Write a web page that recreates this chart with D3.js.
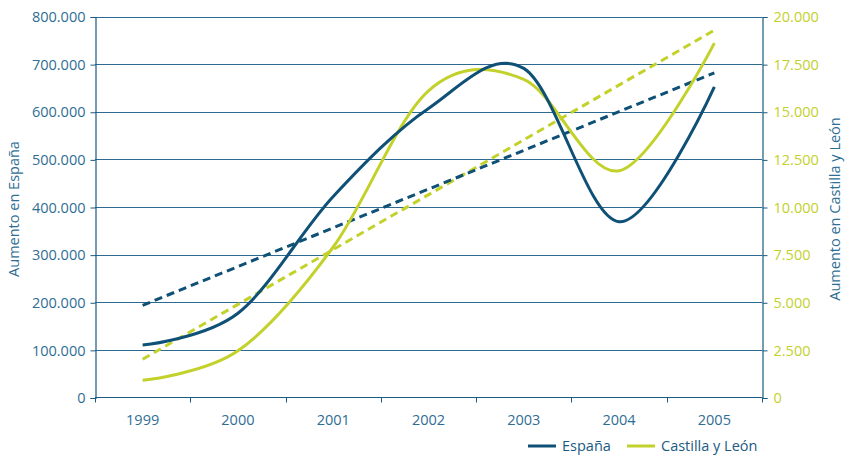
<!DOCTYPE html>
<html><head><meta charset="utf-8">
<script src="https://cdn.jsdelivr.net/npm/d3@7"></script>
<style>
html,body{margin:0;padding:0;background:#fff;}
svg{display:block;font-family:"Open Sans",sans-serif;}
</style></head>
<body><svg id="chart" width="847" height="459"></svg>
<script>
const years = ["1999","2000","2001","2002","2003","2004","2005"];
const espana = [110000, 177000, 422000, 607000, 691000, 369000, 652000];
const castilla = [900, 2450, 7900, 16100, 16700, 11900, 18600];
const espanaTrend = [193600, 681600];   // dashed trend, first & last year
const castillaTrend = [2010, 19280];
const leftTicks = [0,100000,200000,300000,400000,500000,600000,700000,800000];
const rightTicks = [0,2500,5000,7500,10000,12500,15000,17500,20000];
const seriesNames = ["España","Castilla y León"];

const C_ESP = "#0f5077", C_CYL = "#c3d12b", C_AX = "#1b5a82", C_TXT = "#2f6e94";
const svg = d3.select("#chart");
const L = 95, R = 762, T = 16.5, B = 397.5;

const x = d3.scaleBand().domain(years).range([L, R]);
const yL = d3.scaleLinear().domain([0, 800000]).range([B, T]);
const yR = d3.scaleLinear().domain([0, 20000]).range([B, T]);
const fmt = d => d3.format(",")(d).replace(/,/g, ".");
const cx = d => x(d) + x.bandwidth()/2;

// gridlines
svg.append("g").selectAll("line").data(leftTicks.slice(1)).join("line")
  .attr("x1", L).attr("x2", R)
  .attr("y1", d => Math.round(yL(d)) + 0.5).attr("y2", d => Math.round(yL(d)) + 0.5)
  .attr("stroke", "#2c6a91").attr("stroke-width", 1);

// left axis
const gl = svg.append("g").attr("transform", `translate(${L+0.5},0.5)`)
  .call(d3.axisLeft(yL).tickValues(leftTicks).tickFormat(fmt).tickSize(5).tickPadding(5));
gl.select(".domain").attr("stroke", C_AX).attr("stroke-width", 1.2);
gl.selectAll(".tick line").attr("stroke", C_AX);
gl.selectAll("text").attr("fill", C_TXT).style("font-size", "14.5px").style("font-family", "Open Sans");

// right axis
const gr = svg.append("g").attr("transform", `translate(${R+0.5},0.5)`)
  .call(d3.axisRight(yR).tickValues(rightTicks).tickFormat(fmt).tickSize(5).tickPadding(6));
gr.select(".domain").attr("stroke", C_AX).attr("stroke-width", 1.2);
gr.selectAll(".tick line").attr("stroke", C_AX);
gr.selectAll("text").attr("fill", C_CYL).style("font-size", "14.5px").style("font-family", "Open Sans");

// bottom axis
const gb = svg.append("g").attr("transform", `translate(0,${B})`);
gb.append("line").attr("x1", L).attr("x2", R).attr("stroke", C_AX).attr("stroke-width", 1.2);
const bounds = years.map(d => x(d)).concat([R]);
gb.selectAll("line.tk").data(bounds).join("line").attr("class","tk")
  .attr("x1", d => Math.round(d)+0.5).attr("x2", d => Math.round(d)+0.5)
  .attr("y1", 0).attr("y2", 5).attr("stroke", C_AX);
gb.selectAll("text").data(years).join("text")
  .attr("x", cx).attr("y", 27).attr("text-anchor", "middle")
  .attr("fill", C_TXT).style("font-size", "14.5px").text(d => d);

// axis titles
svg.append("text").attr("transform", `translate(19,${(T+B)/2 + 2}) rotate(-90)`)
  .attr("text-anchor", "middle").attr("fill", C_TXT).style("font-size", "14.5px")
  .text("Aumento en España");
svg.append("text").attr("transform", `translate(840,${(T+B)/2 + 2}) rotate(-90)`)
  .attr("text-anchor", "middle").attr("fill", C_TXT).style("font-size", "14.5px")
  .text("Aumento en Castilla y León");

// trend lines
const first = years[0], last = years[years.length-1];
svg.append("line").attr("x1", cx(first)).attr("x2", cx(last))
  .attr("y1", yR(castillaTrend[0])).attr("y2", yR(castillaTrend[1]))
  .attr("stroke", C_CYL).attr("stroke-width", 3).attr("stroke-dasharray", "8,5");
svg.append("line").attr("x1", cx(first)).attr("x2", cx(last))
  .attr("y1", yL(espanaTrend[0])).attr("y2", yL(espanaTrend[1]))
  .attr("stroke", C_ESP).attr("stroke-width", 3).attr("stroke-dasharray", "8,5");

// smooth lines
const curve = d3.curveCatmullRom.alpha(0);
const lineL = d3.line().x((d,i) => cx(years[i])).y(d => yL(d)).curve(curve);
const lineR = d3.line().x((d,i) => cx(years[i])).y(d => yR(d)).curve(curve);
svg.append("path").attr("d", lineR(castilla)).attr("fill","none")
  .attr("stroke", C_CYL).attr("stroke-width", 3);
svg.append("path").attr("d", lineL(espana)).attr("fill","none")
  .attr("stroke", C_ESP).attr("stroke-width", 3);

// legend
const leg = svg.append("g").attr("transform", "translate(528,446)");
const legItems = [{n: seriesNames[0], c: C_ESP, x: 0}, {n: seriesNames[1], c: C_CYL, x: 99}];
legItems.forEach(it => {
  leg.append("line").attr("x1", it.x).attr("x2", it.x + 28).attr("y1", 0).attr("y2", 0)
    .attr("stroke", it.c).attr("stroke-width", 3);
  leg.append("text").attr("x", it.x + 34).attr("y", 5).attr("fill", C_AX)
    .style("font-size", "14.5px").text(it.n);
});
</script></body></html>
